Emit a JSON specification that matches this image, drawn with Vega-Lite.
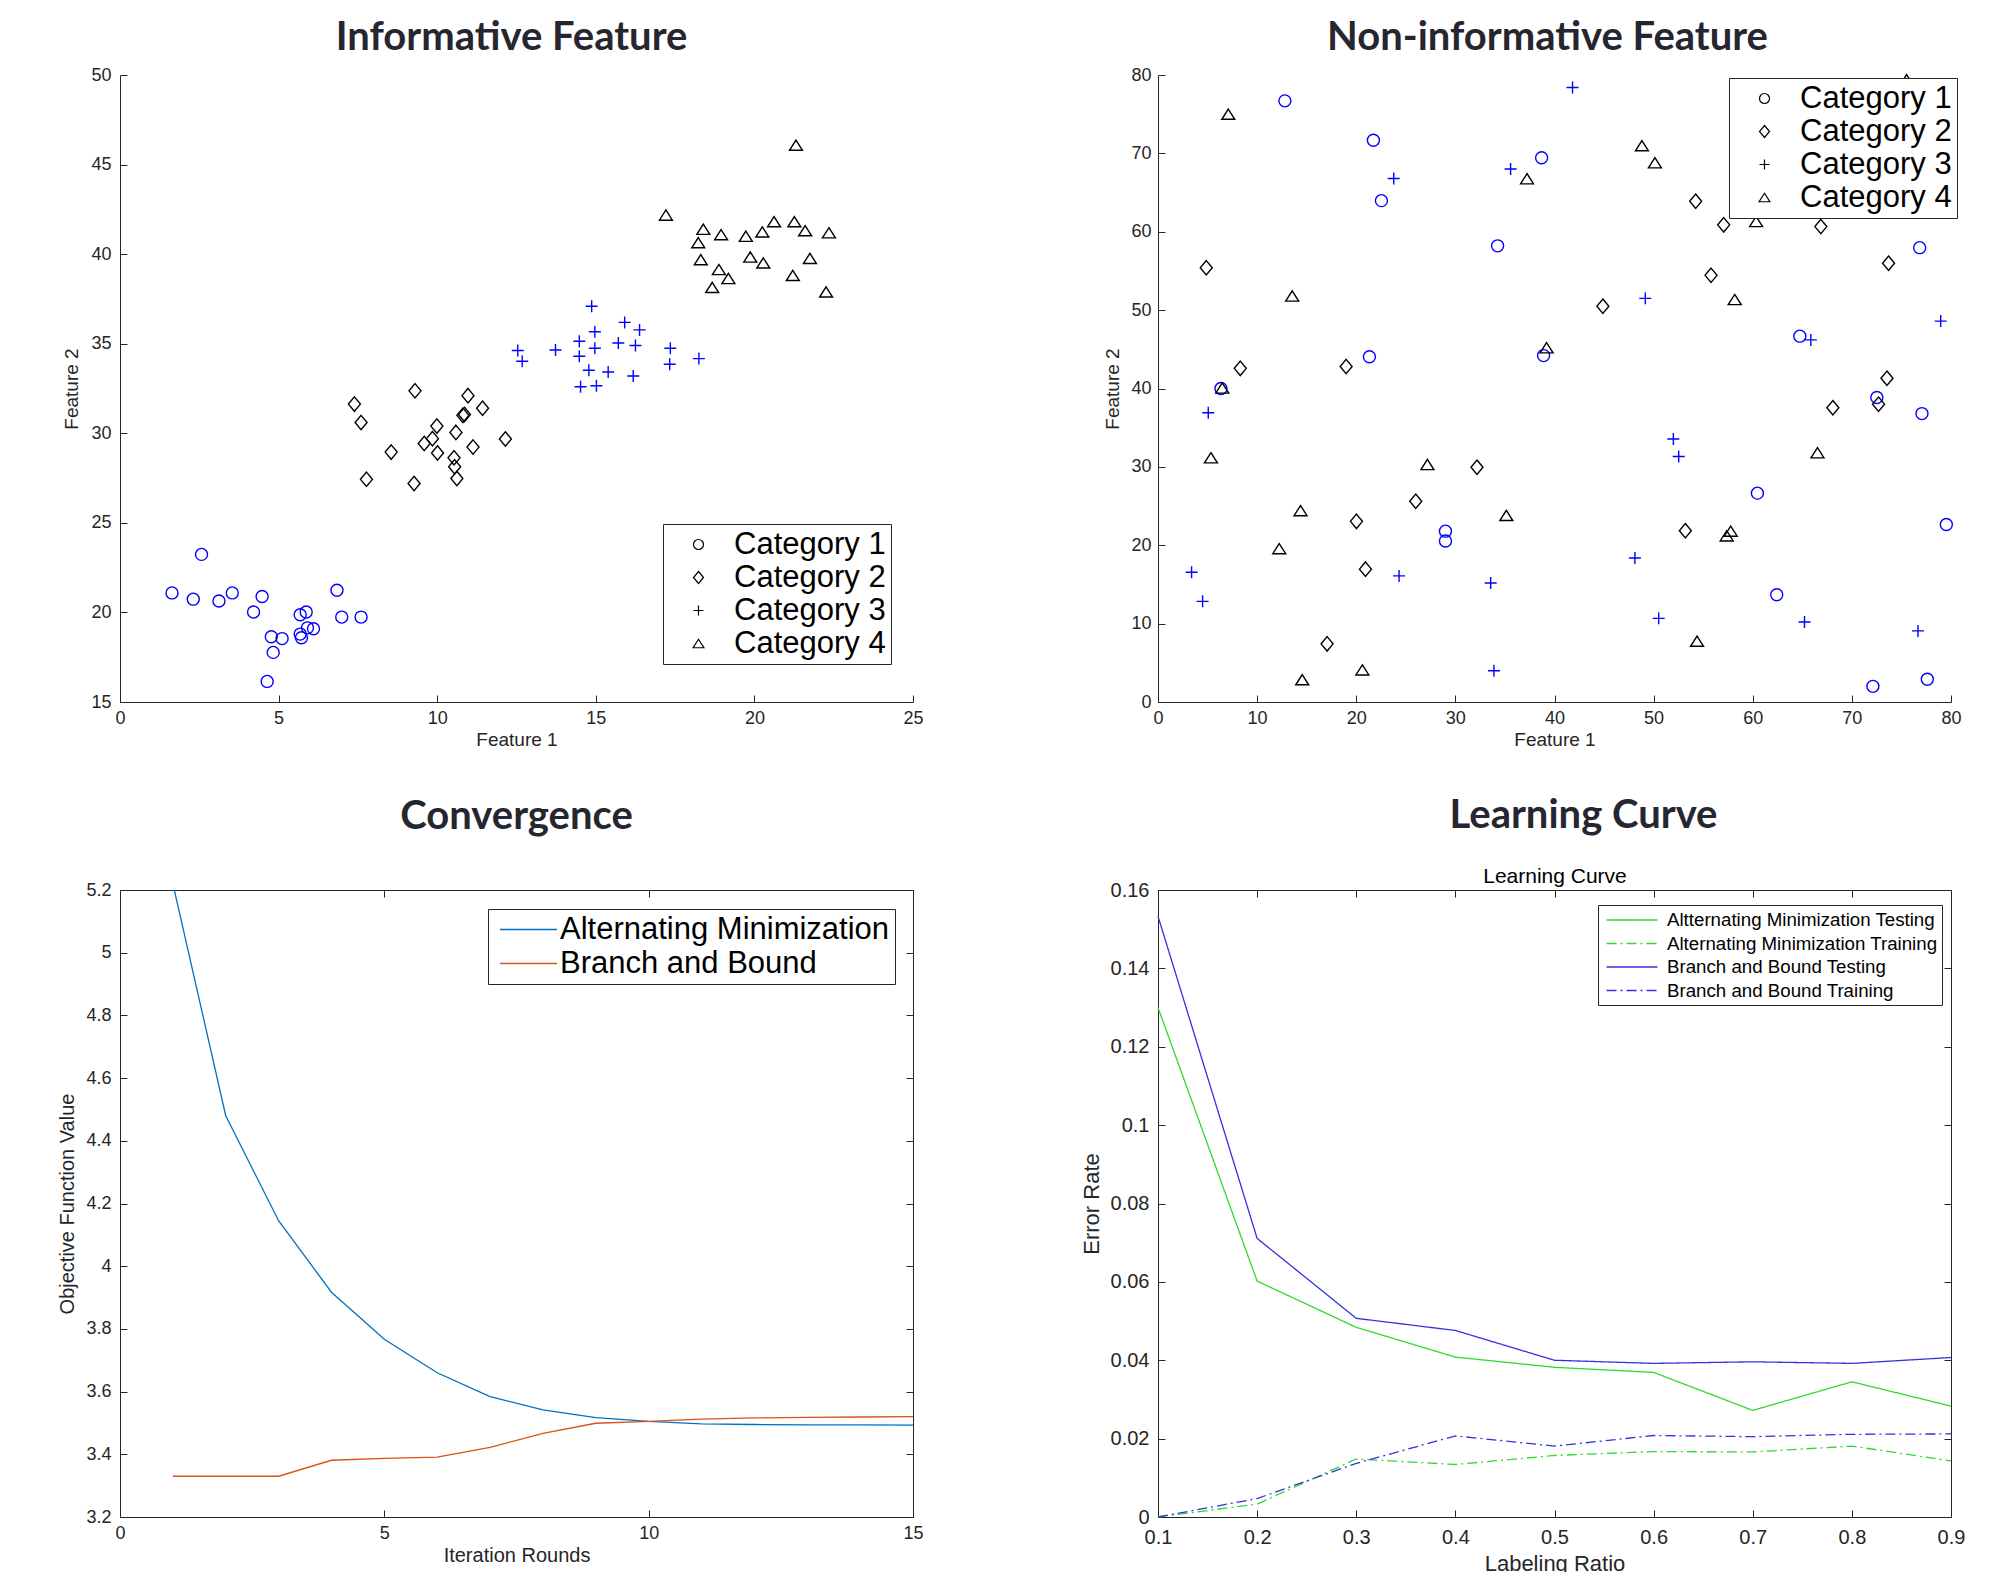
{
  "$schema": "https://vega.github.io/schema/vega-lite/v6.json",
  "background": "white",
  "padding": {"left": 57, "top": 18, "right": 5, "bottom": 5},
  "config": {
    "view": {"stroke": null},
    "axis": {"grid": false, "labelFont": "Liberation Sans", "titleFont": "Liberation Sans", "labelFontSize": 18, "titleFontSize": 19, "titleFontWeight": "normal", "labelColor": "#262626", "titleColor": "#262626", "domainColor": "#262626", "tickColor": "#262626", "tickSize": -7, "labelFlush": false, "labelOverlap": false, "labelBound": false},
    "title": {"font": "Lato", "fontWeight": "bold", "fontSize": 40, "color": "#262630", "anchor": "middle"},
    "legend": {"title": null, "orient": "none", "strokeColor": "#262626", "fillColor": "white", "labelFont": "Liberation Sans", "labelColor": "#000000", "labelLimit": 800}
  },
  "datasets": {
    "informative": [
      {"f1": 1.64, "f2": 21.09, "cat": "Category 1"}, {"f1": 2.57, "f2": 23.24, "cat": "Category 1"}, {"f1": 2.31, "f2": 20.74, "cat": "Category 1"}, {"f1": 3.12, "f2": 20.64, "cat": "Category 1"}, {"f1": 3.54, "f2": 21.09, "cat": "Category 1"}, {"f1": 4.48, "f2": 20.89, "cat": "Category 1"}, {"f1": 4.21, "f2": 20.02, "cat": "Category 1"}, {"f1": 5.68, "f2": 19.87, "cat": "Category 1"}, {"f1": 5.87, "f2": 20.02, "cat": "Category 1"}, {"f1": 4.77, "f2": 18.64, "cat": "Category 1"}, {"f1": 5.11, "f2": 18.54, "cat": "Category 1"}, {"f1": 5.68, "f2": 18.79, "cat": "Category 1"}, {"f1": 5.72, "f2": 18.59, "cat": "Category 1"}, {"f1": 5.91, "f2": 19.14, "cat": "Category 1"}, {"f1": 6.10, "f2": 19.09, "cat": "Category 1"}, {"f1": 4.83, "f2": 17.77, "cat": "Category 1"}, {"f1": 4.64, "f2": 16.15, "cat": "Category 1"}, {"f1": 6.84, "f2": 21.24, "cat": "Category 1"}, {"f1": 6.99, "f2": 19.74, "cat": "Category 1"}, {"f1": 7.60, "f2": 19.74, "cat": "Category 1"},
      {"f1": 7.39, "f2": 31.63, "cat": "Category 2"}, {"f1": 7.60, "f2": 30.6, "cat": "Category 2"}, {"f1": 7.77, "f2": 27.43, "cat": "Category 2"}, {"f1": 8.55, "f2": 28.95, "cat": "Category 2"}, {"f1": 9.30, "f2": 32.37, "cat": "Category 2"}, {"f1": 9.27, "f2": 27.2, "cat": "Category 2"}, {"f1": 9.59, "f2": 29.43, "cat": "Category 2"}, {"f1": 9.85, "f2": 29.7, "cat": "Category 2"}, {"f1": 9.99, "f2": 30.4, "cat": "Category 2"}, {"f1": 10.01, "f2": 28.9, "cat": "Category 2"}, {"f1": 10.59, "f2": 30.05, "cat": "Category 2"}, {"f1": 10.53, "f2": 28.63, "cat": "Category 2"}, {"f1": 10.55, "f2": 28.13, "cat": "Category 2"}, {"f1": 10.62, "f2": 27.48, "cat": "Category 2"}, {"f1": 10.81, "f2": 31.0, "cat": "Category 2"}, {"f1": 10.86, "f2": 31.05, "cat": "Category 2"}, {"f1": 10.97, "f2": 32.1, "cat": "Category 2"}, {"f1": 11.13, "f2": 29.23, "cat": "Category 2"}, {"f1": 11.43, "f2": 31.4, "cat": "Category 2"}, {"f1": 12.15, "f2": 29.68, "cat": "Category 2"},
      {"f1": 12.54, "f2": 34.62, "cat": "Category 3"}, {"f1": 12.68, "f2": 34.02, "cat": "Category 3"}, {"f1": 13.73, "f2": 34.65, "cat": "Category 3"}, {"f1": 14.87, "f2": 37.09, "cat": "Category 3"}, {"f1": 14.97, "f2": 35.67, "cat": "Category 3"}, {"f1": 14.48, "f2": 35.14, "cat": "Category 3"}, {"f1": 14.97, "f2": 34.75, "cat": "Category 3"}, {"f1": 14.48, "f2": 34.3, "cat": "Category 3"}, {"f1": 15.91, "f2": 36.19, "cat": "Category 3"}, {"f1": 16.38, "f2": 35.77, "cat": "Category 3"}, {"f1": 15.71, "f2": 35.04, "cat": "Category 3"}, {"f1": 16.25, "f2": 34.9, "cat": "Category 3"}, {"f1": 14.78, "f2": 33.52, "cat": "Category 3"}, {"f1": 15.39, "f2": 33.42, "cat": "Category 3"}, {"f1": 16.18, "f2": 33.2, "cat": "Category 3"}, {"f1": 14.52, "f2": 32.6, "cat": "Category 3"}, {"f1": 15.02, "f2": 32.65, "cat": "Category 3"}, {"f1": 17.35, "f2": 34.75, "cat": "Category 3"}, {"f1": 17.33, "f2": 33.85, "cat": "Category 3"}, {"f1": 18.25, "f2": 34.17, "cat": "Category 3"},
      {"f1": 21.31, "f2": 46.08, "cat": "Category 4"}, {"f1": 17.21, "f2": 42.18, "cat": "Category 4"}, {"f1": 18.39, "f2": 41.39, "cat": "Category 4"}, {"f1": 18.23, "f2": 40.64, "cat": "Category 4"}, {"f1": 18.31, "f2": 39.69, "cat": "Category 4"}, {"f1": 18.95, "f2": 41.09, "cat": "Category 4"}, {"f1": 19.73, "f2": 41.0, "cat": "Category 4"}, {"f1": 20.25, "f2": 41.24, "cat": "Category 4"}, {"f1": 20.62, "f2": 41.81, "cat": "Category 4"}, {"f1": 21.26, "f2": 41.81, "cat": "Category 4"}, {"f1": 21.6, "f2": 41.31, "cat": "Category 4"}, {"f1": 22.35, "f2": 41.19, "cat": "Category 4"}, {"f1": 19.87, "f2": 39.84, "cat": "Category 4"}, {"f1": 20.28, "f2": 39.51, "cat": "Category 4"}, {"f1": 21.75, "f2": 39.76, "cat": "Category 4"}, {"f1": 18.88, "f2": 39.14, "cat": "Category 4"}, {"f1": 19.18, "f2": 38.64, "cat": "Category 4"}, {"f1": 18.67, "f2": 38.14, "cat": "Category 4"}, {"f1": 21.21, "f2": 38.81, "cat": "Category 4"}, {"f1": 22.26, "f2": 37.89, "cat": "Category 4"}
    ],
    "noninformative": [
      {"f1": 12.8, "f2": 76.7, "cat": "Category 1"}, {"f1": 21.73, "f2": 71.67, "cat": "Category 1"}, {"f1": 22.54, "f2": 63.97, "cat": "Category 1"}, {"f1": 38.7, "f2": 69.44, "cat": "Category 1"}, {"f1": 34.26, "f2": 58.2, "cat": "Category 1"}, {"f1": 21.33, "f2": 44.05, "cat": "Category 1"}, {"f1": 6.35, "f2": 40.0, "cat": "Category 1"}, {"f1": 29.0, "f2": 21.8, "cat": "Category 1"}, {"f1": 29.0, "f2": 20.54, "cat": "Category 1"}, {"f1": 38.9, "f2": 44.2, "cat": "Category 1"}, {"f1": 64.75, "f2": 46.68, "cat": "Category 1"}, {"f1": 76.84, "f2": 57.97, "cat": "Category 1"}, {"f1": 72.52, "f2": 38.86, "cat": "Category 1"}, {"f1": 77.07, "f2": 36.8, "cat": "Category 1"}, {"f1": 60.47, "f2": 26.65, "cat": "Category 1"}, {"f1": 79.53, "f2": 22.65, "cat": "Category 1"}, {"f1": 62.42, "f2": 13.69, "cat": "Category 1"}, {"f1": 72.12, "f2": 2.0, "cat": "Category 1"}, {"f1": 77.61, "f2": 2.91, "cat": "Category 1"},
      {"f1": 4.87, "f2": 55.4, "cat": "Category 2"}, {"f1": 8.3, "f2": 42.57, "cat": "Category 2"}, {"f1": 18.98, "f2": 42.8, "cat": "Category 2"}, {"f1": 32.18, "f2": 29.96, "cat": "Category 2"}, {"f1": 26.0, "f2": 25.62, "cat": "Category 2"}, {"f1": 20.02, "f2": 23.05, "cat": "Category 2"}, {"f1": 20.93, "f2": 16.95, "cat": "Category 2"}, {"f1": 17.06, "f2": 7.42, "cat": "Category 2"}, {"f1": 54.24, "f2": 63.9, "cat": "Category 2"}, {"f1": 57.07, "f2": 60.88, "cat": "Category 2"}, {"f1": 66.87, "f2": 60.66, "cat": "Category 2"}, {"f1": 73.7, "f2": 55.98, "cat": "Category 2"}, {"f1": 55.79, "f2": 54.44, "cat": "Category 2"}, {"f1": 44.88, "f2": 50.5, "cat": "Category 2"}, {"f1": 73.54, "f2": 41.31, "cat": "Category 2"}, {"f1": 68.08, "f2": 37.55, "cat": "Category 2"}, {"f1": 72.69, "f2": 38.0, "cat": "Category 2"}, {"f1": 53.2, "f2": 21.85, "cat": "Category 2"},
      {"f1": 23.78, "f2": 66.8, "cat": "Category 3"}, {"f1": 35.57, "f2": 68.0, "cat": "Category 3"}, {"f1": 5.07, "f2": 36.9, "cat": "Category 3"}, {"f1": 3.39, "f2": 16.55, "cat": "Category 3"}, {"f1": 4.5, "f2": 12.84, "cat": "Category 3"}, {"f1": 24.32, "f2": 16.09, "cat": "Category 3"}, {"f1": 33.56, "f2": 15.18, "cat": "Category 3"}, {"f1": 33.89, "f2": 3.99, "cat": "Category 3"}, {"f1": 41.82, "f2": 78.4, "cat": "Category 3"}, {"f1": 49.16, "f2": 51.5, "cat": "Category 3"}, {"f1": 65.86, "f2": 46.2, "cat": "Category 3"}, {"f1": 78.96, "f2": 48.6, "cat": "Category 3"}, {"f1": 51.99, "f2": 33.55, "cat": "Category 3"}, {"f1": 52.53, "f2": 31.33, "cat": "Category 3"}, {"f1": 48.11, "f2": 18.37, "cat": "Category 3"}, {"f1": 50.51, "f2": 10.67, "cat": "Category 3"}, {"f1": 65.22, "f2": 10.21, "cat": "Category 3"}, {"f1": 76.67, "f2": 9.07, "cat": "Category 3"},
      {"f1": 7.09, "f2": 75.0, "cat": "Category 4"}, {"f1": 13.54, "f2": 51.8, "cat": "Category 4"}, {"f1": 6.48, "f2": 40.06, "cat": "Category 4"}, {"f1": 5.34, "f2": 31.16, "cat": "Category 4"}, {"f1": 27.18, "f2": 30.3, "cat": "Category 4"}, {"f1": 35.14, "f2": 23.8, "cat": "Category 4"}, {"f1": 14.38, "f2": 24.42, "cat": "Category 4"}, {"f1": 12.23, "f2": 19.57, "cat": "Category 4"}, {"f1": 14.55, "f2": 2.85, "cat": "Category 4"}, {"f1": 20.62, "f2": 4.1, "cat": "Category 4"}, {"f1": 37.23, "f2": 66.76, "cat": "Category 4"}, {"f1": 39.2, "f2": 45.2, "cat": "Category 4"}, {"f1": 48.82, "f2": 70.98, "cat": "Category 4"}, {"f1": 50.13, "f2": 68.8, "cat": "Category 4"}, {"f1": 60.34, "f2": 61.3, "cat": "Category 4"}, {"f1": 58.18, "f2": 51.35, "cat": "Category 4"}, {"f1": 75.52, "f2": 79.4, "cat": "Category 4"}, {"f1": 66.53, "f2": 31.8, "cat": "Category 4"}, {"f1": 57.78, "f2": 21.8, "cat": "Category 4"}, {"f1": 57.37, "f2": 21.2, "cat": "Category 4"}, {"f1": 54.38, "f2": 7.76, "cat": "Category 4"}
    ],
    "convergence": [
      {"iter": 1, "value": 5.22, "method": "Alternating Minimization"}, {"iter": 2, "value": 4.48, "method": "Alternating Minimization"}, {"iter": 3, "value": 4.145, "method": "Alternating Minimization"}, {"iter": 4, "value": 3.917, "method": "Alternating Minimization"}, {"iter": 5, "value": 3.767, "method": "Alternating Minimization"}, {"iter": 6, "value": 3.66, "method": "Alternating Minimization"}, {"iter": 7, "value": 3.584, "method": "Alternating Minimization"}, {"iter": 8, "value": 3.542, "method": "Alternating Minimization"}, {"iter": 9, "value": 3.517, "method": "Alternating Minimization"}, {"iter": 10, "value": 3.505, "method": "Alternating Minimization"}, {"iter": 11, "value": 3.497, "method": "Alternating Minimization"}, {"iter": 12, "value": 3.495, "method": "Alternating Minimization"}, {"iter": 13, "value": 3.494, "method": "Alternating Minimization"}, {"iter": 14, "value": 3.494, "method": "Alternating Minimization"}, {"iter": 15, "value": 3.493, "method": "Alternating Minimization"},
      {"iter": 1, "value": 3.33, "method": "Branch and Bound"}, {"iter": 2, "value": 3.33, "method": "Branch and Bound"}, {"iter": 3, "value": 3.33, "method": "Branch and Bound"}, {"iter": 4, "value": 3.381, "method": "Branch and Bound"}, {"iter": 5, "value": 3.387, "method": "Branch and Bound"}, {"iter": 6, "value": 3.391, "method": "Branch and Bound"}, {"iter": 7, "value": 3.422, "method": "Branch and Bound"}, {"iter": 8, "value": 3.467, "method": "Branch and Bound"}, {"iter": 9, "value": 3.499, "method": "Branch and Bound"}, {"iter": 10, "value": 3.505, "method": "Branch and Bound"}, {"iter": 11, "value": 3.512, "method": "Branch and Bound"}, {"iter": 12, "value": 3.516, "method": "Branch and Bound"}, {"iter": 13, "value": 3.518, "method": "Branch and Bound"}, {"iter": 14, "value": 3.519, "method": "Branch and Bound"}, {"iter": 15, "value": 3.52, "method": "Branch and Bound"}
    ],
    "learning": [
      {"ratio": 0.1, "err": 0.13, "series": "Altternating Minimization Testing"}, {"ratio": 0.2, "err": 0.0602, "series": "Altternating Minimization Testing"}, {"ratio": 0.3, "err": 0.0484, "series": "Altternating Minimization Testing"}, {"ratio": 0.4, "err": 0.0408, "series": "Altternating Minimization Testing"}, {"ratio": 0.5, "err": 0.0382, "series": "Altternating Minimization Testing"}, {"ratio": 0.6, "err": 0.0369, "series": "Altternating Minimization Testing"}, {"ratio": 0.7, "err": 0.0272, "series": "Altternating Minimization Testing"}, {"ratio": 0.8, "err": 0.0345, "series": "Altternating Minimization Testing"}, {"ratio": 0.9, "err": 0.0283, "series": "Altternating Minimization Testing"},
      {"ratio": 0.1, "err": 0.0, "series": "Alternating Minimization Training"}, {"ratio": 0.2, "err": 0.0033, "series": "Alternating Minimization Training"}, {"ratio": 0.3, "err": 0.0148, "series": "Alternating Minimization Training"}, {"ratio": 0.4, "err": 0.0134, "series": "Alternating Minimization Training"}, {"ratio": 0.5, "err": 0.0157, "series": "Alternating Minimization Training"}, {"ratio": 0.6, "err": 0.0167, "series": "Alternating Minimization Training"}, {"ratio": 0.7, "err": 0.0166, "series": "Alternating Minimization Training"}, {"ratio": 0.8, "err": 0.0181, "series": "Alternating Minimization Training"}, {"ratio": 0.9, "err": 0.0143, "series": "Alternating Minimization Training"},
      {"ratio": 0.1, "err": 0.1533, "series": "Branch and Bound Testing"}, {"ratio": 0.2, "err": 0.0711, "series": "Branch and Bound Testing"}, {"ratio": 0.3, "err": 0.0507, "series": "Branch and Bound Testing"}, {"ratio": 0.4, "err": 0.0476, "series": "Branch and Bound Testing"}, {"ratio": 0.5, "err": 0.04, "series": "Branch and Bound Testing"}, {"ratio": 0.6, "err": 0.0392, "series": "Branch and Bound Testing"}, {"ratio": 0.7, "err": 0.0396, "series": "Branch and Bound Testing"}, {"ratio": 0.8, "err": 0.0392, "series": "Branch and Bound Testing"}, {"ratio": 0.9, "err": 0.0407, "series": "Branch and Bound Testing"},
      {"ratio": 0.1, "err": 0.0, "series": "Branch and Bound Training"}, {"ratio": 0.2, "err": 0.0047, "series": "Branch and Bound Training"}, {"ratio": 0.3, "err": 0.0137, "series": "Branch and Bound Training"}, {"ratio": 0.4, "err": 0.0207, "series": "Branch and Bound Training"}, {"ratio": 0.5, "err": 0.0181, "series": "Branch and Bound Training"}, {"ratio": 0.6, "err": 0.0208, "series": "Branch and Bound Training"}, {"ratio": 0.7, "err": 0.0205, "series": "Branch and Bound Training"}, {"ratio": 0.8, "err": 0.0211, "series": "Branch and Bound Training"}, {"ratio": 0.9, "err": 0.0212, "series": "Branch and Bound Training"}
    ]
  },
  "columns": 2,
  "spacing": {"row": 188, "column": 245},
  "bounds": "flush",
  "resolve": {
    "scale": {"color": "independent", "shape": "independent", "strokeDash": "independent"},
    "legend": {"color": "independent", "shape": "independent", "strokeDash": "independent"}
  },
  "concat": [
    {
      "width": 793, "height": 627,
      "title": {"text": "Informative Feature", "offset": 8, "dx": -5},
      "data": {"name": "informative"},
      "mark": {"type": "point", "filled": false, "size": 144, "strokeWidth": 1.4, "opacity": 1},
      "encoding": {
        "x": {"field": "f1", "type": "quantitative", "scale": {"domain": [0, 25], "nice": false, "zero": false}, "axis": {"orient": "bottom", "title": "Feature 1", "values": [0, 5, 10, 15, 20, 25], "labelPadding": 14, "titlePadding": 3}},
        "y": {"field": "f2", "type": "quantitative", "scale": {"domain": [15, 50], "nice": false, "zero": false}, "axis": {"orient": "left", "title": "Feature 2", "values": [15, 20, 25, 30, 35, 40, 45, 50], "labelPadding": 16, "titlePadding": 9}},
        "color": {"condition": {"test": "datum.cat == 'Category 1' || datum.cat == 'Category 3'", "value": "#0000ff"}, "value": "#000000"},
        "shape": {"field": "cat", "type": "nominal", "scale": {"domain": ["Category 1", "Category 2", "Category 3", "Category 4"], "range": ["circle", "M0,-1.2L1,0L0,1.2L-1,0Z", "M-1,0H1M0,-1V1", "M0,-0.85L1.08,0.85L-1.08,0.85Z"]},
          "legend": {"legendX": 543, "legendY": 449, "padding": 5, "labelFontSize": 31, "symbolSize": 100, "symbolStrokeWidth": 1.2, "symbolOffset": 15, "labelOffset": 20, "rowPadding": 1, "symbolStrokeColor": "#000000", "symbolFillColor": "transparent"}}
      }
    },
    {
      "width": 793, "height": 627,
      "title": {"text": "Non-informative Feature", "offset": 8, "dx": -7},
      "data": {"name": "noninformative"},
      "mark": {"type": "point", "filled": false, "size": 144, "strokeWidth": 1.4, "opacity": 1},
      "encoding": {
        "x": {"field": "f1", "type": "quantitative", "scale": {"domain": [0, 80], "nice": false, "zero": false}, "axis": {"orient": "bottom", "title": "Feature 1", "values": [0, 10, 20, 30, 40, 50, 60, 70, 80], "labelPadding": 14, "titlePadding": 3}},
        "y": {"field": "f2", "type": "quantitative", "scale": {"domain": [0, 80], "nice": false, "zero": false}, "axis": {"orient": "left", "title": "Feature 2", "values": [0, 10, 20, 30, 40, 50, 60, 70, 80], "labelPadding": 14, "titlePadding": 8}},
        "color": {"condition": {"test": "datum.cat == 'Category 1' || datum.cat == 'Category 3'", "value": "#0000ff"}, "value": "#000000"},
        "shape": {"field": "cat", "type": "nominal", "scale": {"domain": ["Category 1", "Category 2", "Category 3", "Category 4"], "range": ["circle", "M0,-1.2L1,0L0,1.2L-1,0Z", "M-1,0H1M0,-1V1", "M0,-0.85L1.08,0.85L-1.08,0.85Z"]},
          "legend": {"legendX": 571, "legendY": 3, "padding": 5, "labelFontSize": 31, "symbolSize": 100, "symbolStrokeWidth": 1.2, "symbolOffset": 15, "labelOffset": 20, "rowPadding": 1, "symbolStrokeColor": "#000000", "symbolFillColor": "transparent"}}
      }
    },
    {
      "width": 793, "height": 627,
      "title": {"text": "Convergence", "offset": 44.5},
      "data": {"name": "convergence"},
      "layer": [
        {
          "mark": {"type": "line", "strokeWidth": 1.3, "clip": true},
          "encoding": {
            "x": {"field": "iter", "type": "quantitative", "scale": {"domain": [0, 15], "nice": false, "zero": false}, "axis": {"orient": "bottom", "title": "Iteration Rounds", "values": [0, 5, 10, 15], "labelPadding": 14, "titlePadding": 3, "titleFontSize": 20}},
            "y": {"field": "value", "type": "quantitative", "scale": {"domain": [3.2, 5.2], "nice": false, "zero": false}, "axis": {"orient": "left", "title": "Objective Function Value", "values": [3.2, 3.4, 3.6, 3.8, 4, 4.2, 4.4, 4.6, 4.8, 5, 5.2], "format": "~g", "labelPadding": 16, "titlePadding": 8, "titleFontSize": 20}},
            "color": {"field": "method", "type": "nominal", "scale": {"domain": ["Alternating Minimization", "Branch and Bound"], "range": ["#0072BD", "#D95319"]},
              "legend": {"legendX": 368, "legendY": 19, "padding": 5, "labelFontSize": 31, "symbolType": "M-2.5,0H2.5", "symbolSize": 520, "symbolStrokeWidth": 1.3, "symbolOffset": 20, "labelOffset": 16, "rowPadding": 2}}
          }
        },
        {
          "mark": {"type": "line", "strokeOpacity": 0, "clip": true},
          "encoding": {
            "x": {"field": "iter", "type": "quantitative", "axis": {"orient": "top", "labels": false, "title": null, "values": [0, 5, 10, 15]}},
            "y": {"field": "value", "type": "quantitative", "axis": {"orient": "right", "labels": false, "title": null, "values": [3.2, 3.4, 3.6, 3.8, 4, 4.2, 4.4, 4.6, 4.8, 5, 5.2]}},
            "detail": {"field": "method", "type": "nominal"}
          }
        }
      ],
      "resolve": {"axis": {"x": "independent", "y": "independent"}}
    },
    {
      "width": 793, "height": 627,
      "title": {"text": "Learning Curve", "offset": 29.5, "dx": 29},
      "data": {"name": "learning"},
      "layer": [
        {
          "mark": {"type": "line", "strokeWidth": 1.3},
          "encoding": {
            "x": {"field": "ratio", "type": "quantitative", "scale": {"domain": [0.1, 0.9], "nice": false, "zero": false}, "axis": {"orient": "bottom", "title": "Labeling Ratio", "values": [0.1, 0.2, 0.3, 0.4, 0.5, 0.6, 0.7, 0.8, 0.9], "format": "~g", "labelFontSize": 20, "titleFontSize": 22, "labelPadding": 17, "titlePadding": 6}},
            "y": {"field": "err", "type": "quantitative", "scale": {"domain": [0, 0.16], "nice": false, "zero": false}, "axis": {"orient": "left", "title": "Error Rate", "values": [0, 0.02, 0.04, 0.06, 0.08, 0.1, 0.12, 0.14, 0.16], "format": "~g", "labelFontSize": 20, "titleFontSize": 22, "labelPadding": 16, "titlePadding": 7}},
            "color": {"field": "series", "type": "nominal", "scale": {"domain": ["Altternating Minimization Testing", "Alternating Minimization Training", "Branch and Bound Testing", "Branch and Bound Training"], "range": ["#30d830", "#30d830", "#3333dd", "#3333dd"]},
              "legend": {"legendX": 440, "legendY": 15, "padding": 4, "labelFontSize": 18.7, "symbolType": "M-2.5,0H2.5", "symbolSize": 416, "symbolStrokeWidth": 1.3, "symbolOffset": 19, "labelOffset": 24, "rowPadding": 2.5}},
            "strokeDash": {"field": "series", "type": "nominal", "scale": {"domain": ["Altternating Minimization Testing", "Alternating Minimization Training", "Branch and Bound Testing", "Branch and Bound Training"], "range": [[1, 0], [10, 4, 2, 4], [1, 0], [10, 4, 2, 4]]},
              "legend": {"legendX": 440, "legendY": 15, "padding": 4, "labelFontSize": 18.7, "symbolType": "M-2.5,0H2.5", "symbolSize": 416, "symbolStrokeWidth": 1.3, "symbolOffset": 19, "labelOffset": 24, "rowPadding": 2.5}}
          }
        },
        {
          "mark": {"type": "line", "strokeOpacity": 0},
          "encoding": {
            "x": {"field": "ratio", "type": "quantitative", "axis": {"orient": "top", "labels": false, "title": "Learning Curve", "titleFontSize": 21, "titleColor": "#000000", "titlePadding": 3, "values": [0.1, 0.2, 0.3, 0.4, 0.5, 0.6, 0.7, 0.8, 0.9]}},
            "y": {"field": "err", "type": "quantitative", "axis": {"orient": "right", "labels": false, "title": null, "values": [0, 0.02, 0.04, 0.06, 0.08, 0.1, 0.12, 0.14, 0.16]}},
            "detail": {"field": "series", "type": "nominal"}
          }
        }
      ],
      "resolve": {"axis": {"x": "independent", "y": "independent"}}
    }
  ]
}
